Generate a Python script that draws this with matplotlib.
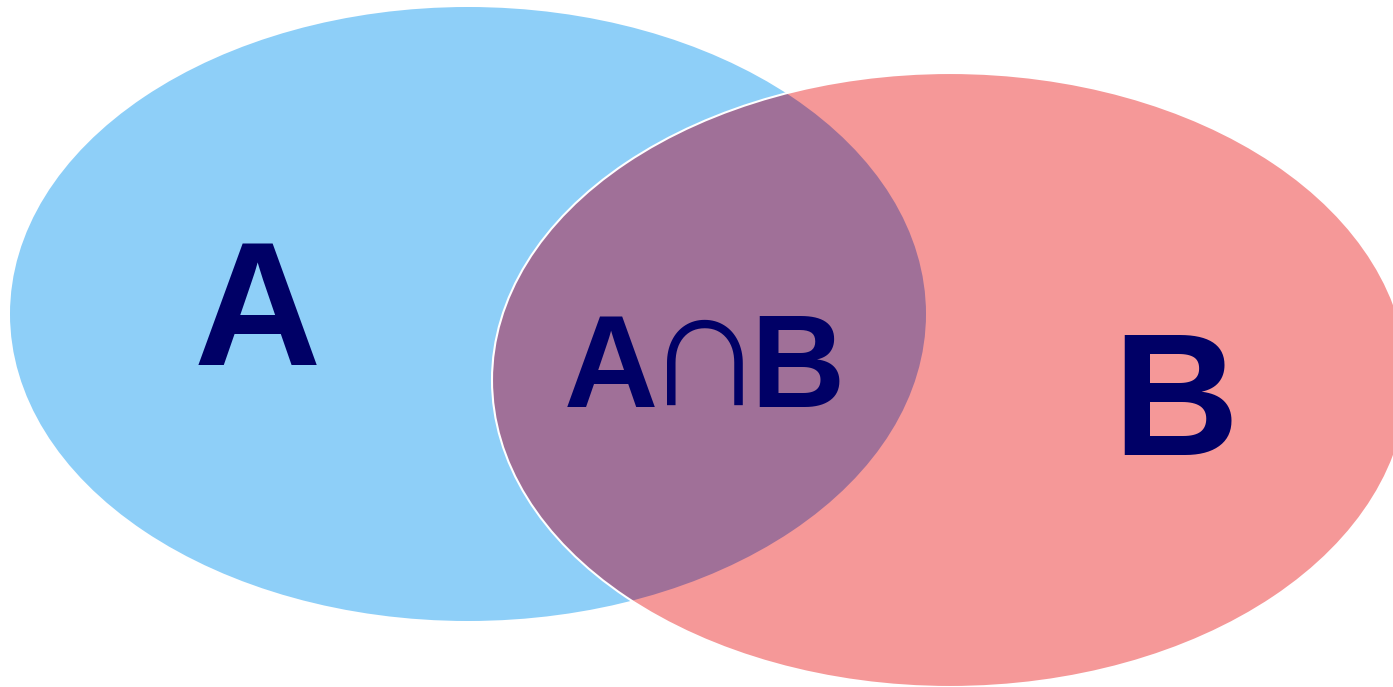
import matplotlib.pyplot as plt
from matplotlib.patches import Ellipse

# 集合标签和几何参数（像素坐标）
set_names = ['A', 'B']
set_centers = [(468, 314), (950, 380)]
set_sizes = [(916, 614), (916, 614)]
set_colors = ['#8ECFF8', '#F59898']
overlap_parts = ['A', '\u2229', 'B']
overlap_color = '#A07098'
text_color = '#000066'

fig = plt.figure(figsize=(13.93, 6.87), dpi=100)
ax = fig.add_axes([0, 0, 1, 1])
ax.set_xlim(0, 1393)
ax.set_ylim(687, 0)
ax.axis('off')

ea = Ellipse(set_centers[0], *set_sizes[0], facecolor=set_colors[0], edgecolor='none', zorder=1)
eb = Ellipse(set_centers[1], *set_sizes[1], facecolor=set_colors[1], edgecolor='none', zorder=2)
ax.add_patch(ea)
ax.add_patch(eb)

# 交集部分：A 椭圆裁剪到 B 内
inter = Ellipse(set_centers[0], *set_sizes[0], facecolor=overlap_color, edgecolor='none', zorder=3)
ax.add_patch(inter)
inter.set_clip_path(eb)

# B 的白色描边
border = Ellipse(set_centers[1], *set_sizes[1], facecolor='none', edgecolor='white', linewidth=1.5, zorder=4)
ax.add_patch(border)

font = ['Liberation Sans', 'DejaVu Sans']
ax.text(257, 365, set_names[0], ha='center', va='baseline', fontsize=127,
        fontweight='bold', color=text_color, family=font, zorder=5)
ax.text(1176, 455, set_names[1], ha='center', va='baseline', fontsize=126,
        fontweight='bold', color=text_color, family=font, zorder=5)

# 交集标签分三段画，∩ 用细体
ax.text(611, 407, overlap_parts[0], ha='center', va='baseline', fontsize=94,
        fontweight='bold', color=text_color, family=font, zorder=5)
ax.text(705, 405, overlap_parts[1], ha='center', va='baseline', fontsize=122,
        fontweight='normal', color=text_color, family=font, zorder=5)
ax.text(797, 407, overlap_parts[2], ha='center', va='baseline', fontsize=94,
        fontweight='bold', color=text_color, family=font, zorder=5)

plt.savefig('out.png', dpi=100)
